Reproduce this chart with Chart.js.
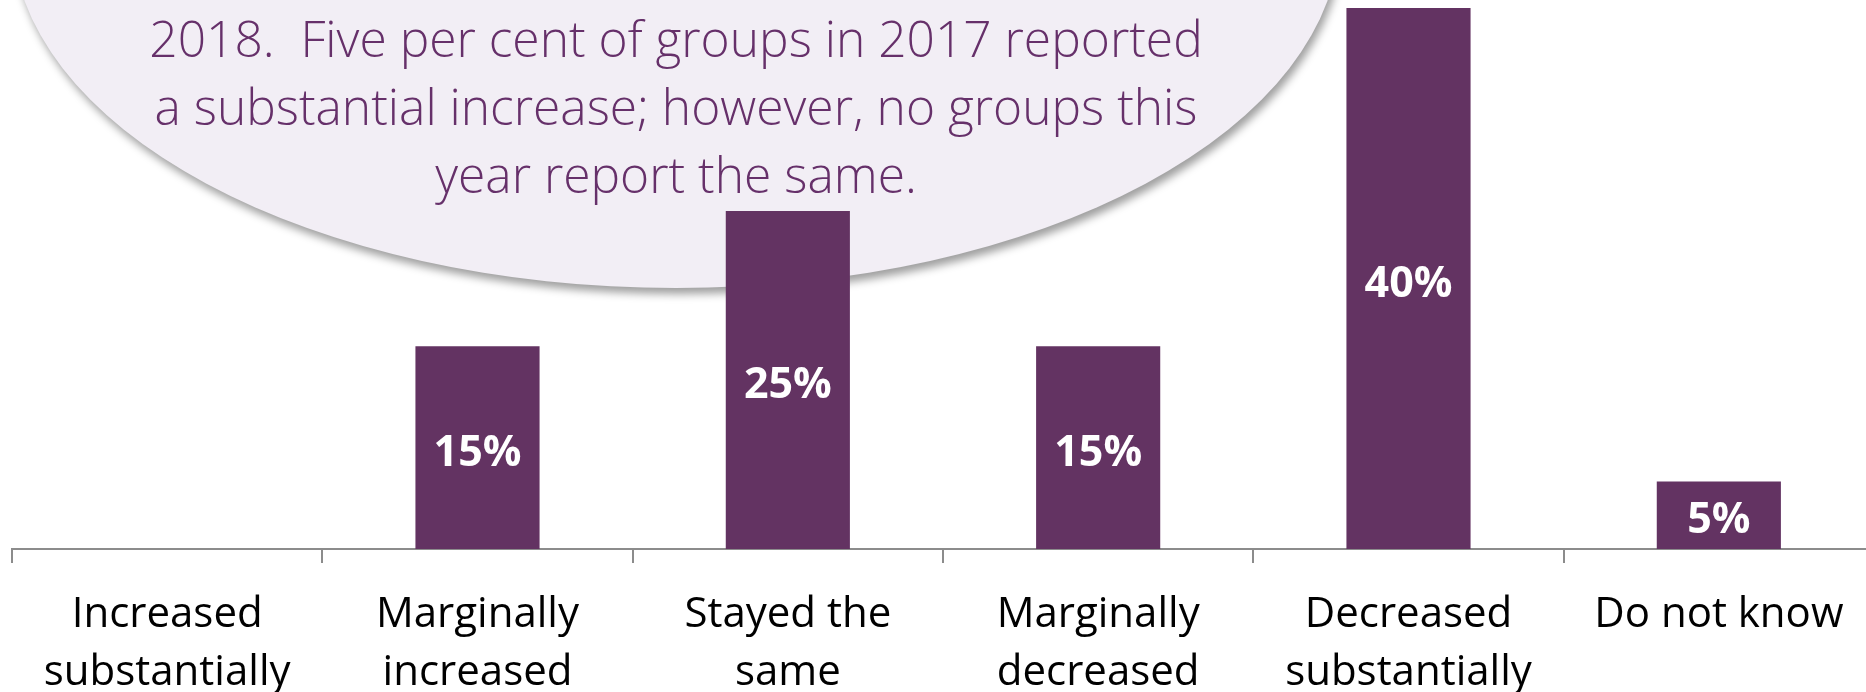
<!DOCTYPE html>
<html>
<head>
<meta charset="utf-8">
<script src="https://cdn.jsdelivr.net/npm/chart.js@4/dist/chart.umd.min.js"></script>
<style>
  html, body { margin: 0; padding: 0; background: #fff; overflow: hidden; }
  #wrap { width: 1880px; height: 692px; }
</style>
</head>
<body>
<div id="wrap"><canvas id="myChart" width="1880" height="692"></canvas></div>
<script>
const categories = [
  ['Increased', 'substantially'],
  ['Marginally', 'increased'],
  ['Stayed the', 'same'],
  ['Marginally', 'decreased'],
  ['Decreased', 'substantially'],
  ['Do not know'],
];
const values = [0, 15, 25, 15, 40, 5];
const calloutLines = [
  '2018.  Five per cent of groups in 2017 reported',
  'a substantial increase; however, no groups this',
  'year report the same.',
];

const purple = '#633362';
const axisGrey = '#8c8c8c';

// speech bubble behind the bars, with its text
const calloutPlugin = {
  id: 'callout',
  beforeDatasetsDraw(chart) {
    const ctx = chart.ctx;
    ctx.save();
    ctx.shadowColor = 'rgba(0, 0, 0, 0.38)';
    ctx.shadowBlur = 9;
    ctx.shadowOffsetX = 3;
    ctx.shadowOffsetY = 6;
    ctx.beginPath();
    ctx.ellipse(676, -68, 664, 356, 0, 0, Math.PI * 2);
    ctx.fillStyle = '#f2eef5';
    ctx.fill();
    ctx.restore();

    ctx.save();
    ctx.fillStyle = '#66306a';
    ctx.font = '300 49.7px "Open Sans"';
    ctx.textAlign = 'center';
    ctx.textBaseline = 'alphabetic';
    calloutLines.forEach((line, i) => {
      ctx.fillText(line, 676, 57 + i * 68);
    });
    ctx.restore();
  }
};

// white percentage in the middle of each bar
const barLabels = {
  id: 'barLabels',
  afterDatasetsDraw(chart) {
    const ctx = chart.ctx;
    const meta = chart.getDatasetMeta(0);
    ctx.save();
    ctx.fillStyle = '#fff';
    ctx.font = 'bold 43px "Open Sans"';
    ctx.textAlign = 'center';
    ctx.textBaseline = 'alphabetic';
    meta.data.forEach((bar, i) => {
      if (!values[i]) return;
      const mid = (bar.y + bar.base) / 2;
      ctx.fillText(`${values[i]}%`, bar.x, mid + 18);
    });
    ctx.restore();
  }
};

const mydata = {
  labels: categories,
  datasets: [{
    data: values,
    backgroundColor: purple,
    borderWidth: 0,
    barPercentage: 0.4,
    categoryPercentage: 1,
  }]
};

const config = {
  type: 'bar',
  data: mydata,
  options: {
    responsive: false,
    animation: false,
    devicePixelRatio: 1,
    layout: { padding: { left: 12, right: 6, top: 0, bottom: 0 } },
    plugins: {
      legend: { display: false },
      tooltip: { enabled: false },
    },
    scales: {
      x: {
        grid: {
          offset: true,
          drawOnChartArea: false,
          drawTicks: true,
          tickLength: 14,
          color: axisGrey,
          lineWidth: 2,
        },
        border: { display: true, color: axisGrey, width: 2 },
        ticks: {
          color: '#000',
          font: { family: 'Open Sans', size: 42, lineHeight: 1.38 },
          padding: 23,
          maxRotation: 0,
          autoSkip: false,
        },
        afterFit: (scale) => { scale.height = 143; },
      },
      y: { display: false, min: 0, max: 40.6 },
    },
  },
  plugins: [calloutPlugin, barLabels],
};

const myChart = new Chart(document.getElementById('myChart'), config);
</script>
</body>
</html>
